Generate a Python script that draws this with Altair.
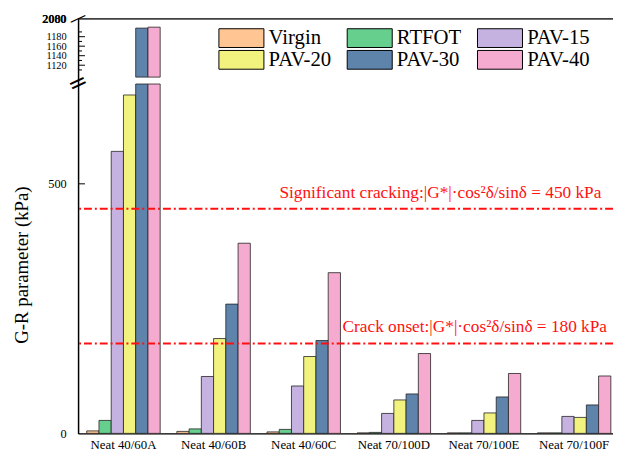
import altair as alt
import pandas as pd

groups = ["Neat 40/60A", "Neat 40/60B", "Neat 40/60C", "Neat 70/100D", "Neat 70/100E", "Neat 70/100F"]
series = ["Virgin", "RTFOT", "PAV-15", "PAV-20", "PAV-30", "PAV-40"]
virgin = [5, 4, 3, 1, 1, 1]
rtfot = [26, 9, 8, 2, 1, 1]
pav15 = [565, 114, 95, 40, 26, 34]
pav20 = [678, 190, 154, 67, 41, 32]
pav30 = [1198, 259, 186, 79, 73, 57]
pav40 = [1200, 381, 322, 160, 120, 115]
colors = ["#FFC592", "#66CF8E", "#C6B2E0", "#F2F27E", "#5E84AC", "#F5AACF"]

break_low, break_high, top_val = 700, 1095, 2000
y_major = [0, 500, 1120, 1140, 1160, 1180, 2000]
tick_major = [500, 1120, 1140, 1160, 1180]
tick_minor = [1110, 1130, 1150, 1170, 1190]
thresholds = [450, 180]
sig_label = "Significant cracking:|G*|·cos²δ/sinδ = 450 kPa"
onset_label = "Crack onset:|G*|·cos²δ/sinδ = 180 kPa"

values = [virgin, rtfot, pav15, pav20, pav30, pav40]
rows = []
for s, vals in zip(series, values):
    for g, v in zip(groups, vals):
        if v > break_low:
            rows.append({"group": g, "series": s, "v": 0, "hi": break_low})
            rows.append({"group": g, "series": s, "v": break_high, "hi": v})
        else:
            rows.append({"group": g, "series": s, "v": 0, "hi": v})
df = pd.DataFrame(rows)

W, H = 542, 420
FONT = "Liberation Serif"
yscale = alt.Scale(domain=[0, break_low, break_high, 1200, top_val],
                   range=[H, 66, 59, 8.4, 0], zero=False, nice=False)
yaxis = alt.Axis(values=y_major, ticks=False, grid=False, format="d",
                 labelOverlap=False,
                 labelExpr="datum.value == 2000 ? '2000' : datum.label",
                 labelFont=FONT,
                 labelFontSize={"condition": {"test": "datum.value > 1000 && datum.value < 2000",
                                              "value": 10.5}, "value": 12.5},
                 labelColor="black",
                 labelPadding=12, domainColor="black", domainWidth=1.5,
                 titleFont=FONT, titleFontSize=19, titleFontWeight="normal",
                 titleColor="black", titleX=-57, titleY=249,
                 titleAngle=270, titleAlign="center", titleBaseline="middle")
YTITLE = "G-R parameter (kPa)"


def yenc():
    return alt.Y("v:Q", scale=yscale, axis=yaxis, title=YTITLE)


swatch = "M-2.4,-1L2.4,-1L2.4,1L-2.4,1Z"

bars = alt.Chart(df).mark_bar(stroke="#222222", strokeWidth=0.8).encode(
    x=alt.X("group:N", sort=groups, title=None,
            scale=alt.Scale(paddingInner=0.185, paddingOuter=0.06, align=0.8),
            axis=alt.Axis(labelFont=FONT, labelFontSize=13, labelColor="black",
                          labelAngle=0, ticks=False, labelPadding=5,
                          domainColor="black", domainWidth=1.5)),
    xOffset=alt.XOffset("series:N", sort=series,
                        scale=alt.Scale(paddingInner=0, paddingOuter=0)),
    y=yenc(),
    y2="hi:Q",
    color=alt.Color("series:N", sort=series,
                    scale=alt.Scale(domain=series, range=colors),
                    legend=alt.Legend(title=None, orient="none", legendX=155, legendY=9,
                                      columns=3, direction="horizontal",
                                      symbolType=swatch, symbolSize=361,
                                      symbolStrokeColor="black", symbolStrokeWidth=1,
                                      labelFont=FONT, labelFontSize=21, labelColor="black",
                                      labelOffset=17, columnPadding=13, rowPadding=-4,
                                      labelLimit=200)),
)

thr = alt.Chart(pd.DataFrame({"v": thresholds})).mark_rule(
    color="#FF1010", strokeWidth=2, strokeDash=[8, 3, 2, 3]).encode(y=yenc())

sig = alt.Chart(pd.DataFrame({"v": [thresholds[0]], "t": [sig_label]})).mark_text(
    font=FONT, fontSize=17.5, color="#FF1010", align="left", baseline="middle", dy=-16).encode(
    y=yenc(), x=alt.value(204), text="t:N")

onset = alt.Chart(pd.DataFrame({"v": [thresholds[1]], "t": [onset_label]})).mark_text(
    font=FONT, fontSize=17.5, color="#FF1010", align="left", baseline="middle", dy=-17).encode(
    y=yenc(), x=alt.value(268), text="t:N")

tmaj = alt.Chart(pd.DataFrame({"v": tick_major})).mark_rule(color="black", strokeWidth=1).encode(
    y=yenc(), x=alt.value(0), x2=alt.value(7))
tmin = alt.Chart(pd.DataFrame({"v": tick_minor})).mark_rule(color="black", strokeWidth=1).encode(
    y=yenc(), x=alt.value(0), x2=alt.value(4))

top = alt.Chart(pd.DataFrame({"v": [top_val]})).mark_rule(color="black", strokeWidth=1.5).encode(
    y=yenc())

brk = alt.Chart(pd.DataFrame({"v": [725]})).mark_text(
    text="=", font="DejaVu Sans", fontSize=24, angle=335, color="black",
    align="center", baseline="middle").encode(y=yenc(), x=alt.value(0))
brk_top = alt.Chart(pd.DataFrame({"v": [top_val]})).mark_text(
    text="—", font="DejaVu Sans", fontSize=18, angle=335, color="black",
    align="center", baseline="middle").encode(y=yenc(), x=alt.value(0))
lbl_top = alt.Chart(pd.DataFrame({"v": [top_val]})).mark_text(
    text="2080", font=FONT, fontSize=12, color="black", fontWeight="bold",
    align="right", baseline="middle").encode(y=yenc(), x=alt.value(-12))

chart = alt.layer(bars, thr, sig, onset, tmaj, tmin, top, brk, brk_top, lbl_top).properties(
    width=W, height=H,
    autosize=alt.AutoSizeParams(type="none"),
    padding={"left": 71, "top": 8, "right": 0, "bottom": 28},
).configure_view(stroke=None).configure(background="white")

chart.save("out.html", embed_options={"renderer": "svg", "actions": False})
